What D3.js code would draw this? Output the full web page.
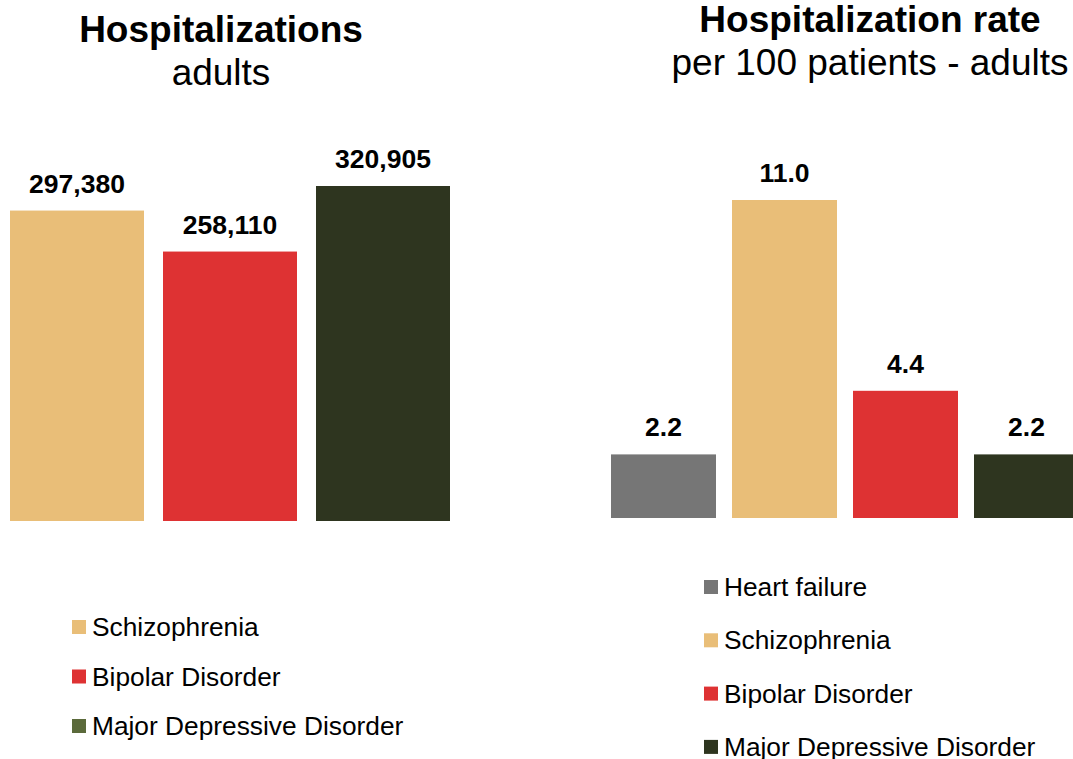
<!DOCTYPE html>
<html>
<head>
<meta charset="utf-8">
<script src="https://cdnjs.cloudflare.com/ajax/libs/d3/7.8.5/d3.min.js"></script>
<style>
    body { margin: 0; background: #fff; }
    svg { display: block; font-family: "Liberation Sans", Arial, sans-serif; }
</style>
</head>
<body>
<svg id="chart" width="1073" height="759"></svg>
<script>
// left panel: number of hospitalizations
const countCategories = ["Schizophrenia", "Bipolar Disorder", "Major Depressive Disorder"];
const countValues = [297380, 258110, 320905];

// right panel: rate per 100 patients
const rateCategories = ["Heart failure", "Schizophrenia", "Bipolar Disorder", "Major Depressive Disorder"];
const rateValues = [2.2, 11.0, 4.4, 2.2];

const barColors = {
    "Heart failure": "#767676",
    "Schizophrenia": "#E9BE78",
    "Bipolar Disorder": "#DE3233",
    "Major Depressive Disorder": "#2E351F"
};
// the left legend uses a lighter swatch for MDD than its bar
const leftLegendColors = {
    "Schizophrenia": "#E9BE78",
    "Bipolar Disorder": "#DE3233",
    "Major Depressive Disorder": "#5B6A3B"
};

let svg = d3.select("#chart");

function drawPanel(opts) {
    let g = svg.append("g");
    let data = opts.categories.map(function (c, i) {
        return {name: c, value: opts.values[i]};
    });

    let x = d3.scaleBand()
        .domain(opts.categories)
        .range(opts.xRange)
        .paddingInner(opts.padding)
        .paddingOuter(0);

    let y = d3.scaleLinear()
        .domain([0, d3.max(opts.values)])
        .range([opts.baseline, opts.top]);

    g.selectAll(".bar")
        .data(data)
        .enter()
        .append("rect")
        .attr("class", "bar")
        .attr("x", function (d) { return x(d.name); })
        .attr("y", function (d) { return y(d.value); })
        .attr("width", x.bandwidth())
        .attr("height", function (d) { return opts.baseline - y(d.value); })
        .style("fill", function (d) { return barColors[d.name]; });

    g.selectAll(".value")
        .data(data)
        .enter()
        .append("text")
        .attr("class", "value")
        .attr("x", function (d) { return x(d.name) + x.bandwidth() / 2; })
        .attr("y", function (d) { return y(d.value) - 18; })
        .attr("text-anchor", "middle")
        .style("font-size", "26.5px")
        .style("font-weight", "bold")
        .text(function (d) { return opts.format(d.value); });

    // titles
    g.append("text")
        .attr("x", opts.titleX)
        .attr("y", opts.titleY)
        .attr("text-anchor", "middle")
        .style("font-size", "37px")
        .style("font-weight", "bold")
        .text(opts.title);

    g.append("text")
        .attr("x", opts.titleX)
        .attr("y", opts.titleY + 43)
        .attr("text-anchor", "middle")
        .style("font-size", "37px")
        .text(opts.subtitle);

    // legend
    let legend = g.append("g")
        .attr("transform", "translate(" + opts.legendX + "," + opts.legendY + ")");

    let item = legend.selectAll(".item")
        .data(opts.categories)
        .enter()
        .append("g")
        .attr("class", "item")
        .attr("transform", function (d, i) {
            return "translate(0," + (i * opts.legendStep) + ")";
        });

    item.append("rect")
        .attr("x", 0)
        .attr("y", -7)
        .attr("width", 14)
        .attr("height", 14)
        .style("fill", function (d) { return opts.legendColors[d]; });

    item.append("text")
        .attr("x", 20)
        .attr("y", 9)
        .style("font-size", "26.3px")
        .text(function (d) { return d; });
}

drawPanel({
    categories: countCategories,
    values: countValues,
    xRange: [10, 450],
    padding: 19 / 153,
    baseline: 521,
    top: 186,
    format: d3.format(","),
    title: "Hospitalizations",
    subtitle: "adults",
    titleX: 221,
    titleY: 42,
    legendX: 72,
    legendY: 627,
    legendStep: 49.5,
    legendColors: leftLegendColors
});

drawPanel({
    categories: rateCategories,
    values: rateValues,
    xRange: [611, 1079],
    padding: 16 / 121,
    baseline: 518,
    top: 200,
    format: d3.format(".1f"),
    title: "Hospitalization rate",
    subtitle: "per 100 patients - adults",
    titleX: 870,
    titleY: 32,
    legendX: 704,
    legendY: 587,
    legendStep: 53.3,
    legendColors: barColors
});
</script>
</body>
</html>
